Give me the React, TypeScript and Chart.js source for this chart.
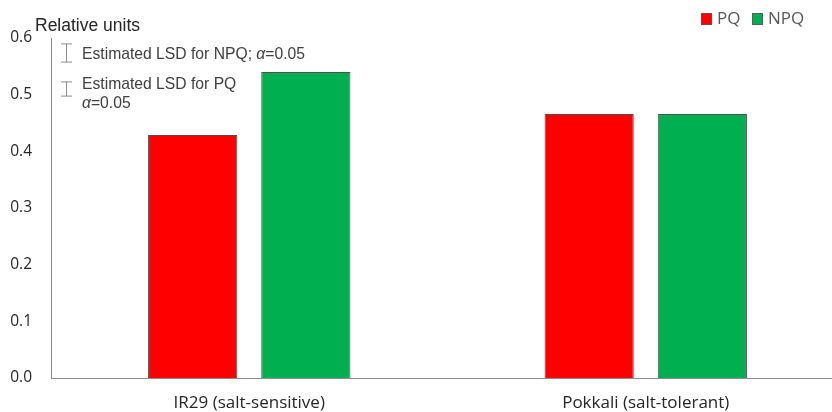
import React, { useEffect, useRef } from "react";
import { Chart, registerables } from "chart.js";

Chart.register(...registerables);

const categories = ["IR29 (salt-sensitive)", "Pokkali (salt-tolerant)"];
const pqValues = [0.429, 0.466];
const npqValues = [0.54, 0.466];
const seriesNames = ["PQ", "NPQ"];
const seriesColors = ["#FF0000", "#00B050"];
const yTicks = [0, 0.1, 0.2, 0.3, 0.4, 0.5, 0.6];
const lsdNpq = 0.032;
const lsdPq = 0.025;
const yTitle = "Relative units";

const overlayPlugin = {
  id: "overlay",
  afterDraw(chart: any) {
    const ctx = chart.ctx;
    const y = chart.scales.y;
    const ppu = Math.abs(y.getPixelForValue(0) - y.getPixelForValue(0.1)) / 0.1;
    ctx.save();
    // y title
    ctx.fillStyle = "#262626";
    ctx.font = '17.5px "Liberation Sans", Arial, sans-serif';
    ctx.textBaseline = "alphabetic";
    ctx.textAlign = "left";
    ctx.fillText(yTitle, 35, 31);

    // LSD glyphs
    const drawI = (cx: number, cy: number, h: number) => {
      ctx.strokeStyle = "#8c8c8c";
      ctx.lineWidth = 1;
      ctx.beginPath();
      ctx.moveTo(cx, cy - h / 2);
      ctx.lineTo(cx, cy + h / 2);
      ctx.moveTo(cx - 5.5, cy - h / 2);
      ctx.lineTo(cx + 5.5, cy - h / 2);
      ctx.moveTo(cx - 5.5, cy + h / 2);
      ctx.lineTo(cx + 5.5, cy + h / 2);
      ctx.stroke();
    };
    drawI(66.5, 53, lsdNpq * ppu);
    drawI(66.5, 89, lsdPq * ppu);

    const reg = '15.7px "Liberation Sans", Arial, sans-serif';
    const ital = 'italic 15.7px "Liberation Sans", Arial, sans-serif';
    ctx.fillStyle = "#404040";
    ctx.font = reg;
    const t1 = "Estimated LSD for NPQ; ";
    ctx.fillText(t1, 82, 59);
    const w = ctx.measureText(t1).width;
    ctx.font = ital;
    ctx.fillText("α", 82 + w, 59);
    let wa = ctx.measureText("α").width;
    ctx.font = reg;
    ctx.fillText("=0.05", 82 + w + wa, 59);

    ctx.fillText("Estimated LSD for PQ", 82, 89);
    ctx.font = ital;
    ctx.fillText("α", 82, 107.5);
    wa = ctx.measureText("α").width;
    ctx.font = reg;
    ctx.fillText("=0.05", 82 + wa, 107.5);

    // legend
    const items = [
      { x: 701, label: seriesNames[0], color: seriesColors[0] },
      { x: 752, label: seriesNames[1], color: seriesColors[1] },
    ];
    ctx.font = '17px "Open Sans", sans-serif';
    ctx.textBaseline = "middle";
    for (const it of items) {
      ctx.fillStyle = it.color;
      ctx.fillRect(it.x, 13, 11, 12);
      ctx.strokeStyle = "#595959";
      ctx.lineWidth = 0.8;
      ctx.strokeRect(it.x + 0.5, 13.5, 10, 11);
      ctx.fillStyle = "#595959";
      ctx.fillText(it.label, it.x + 16, 19);
    }
    ctx.restore();
  },
};

export default function App() {
  const ref = useRef<HTMLCanvasElement>(null);
  useEffect(() => {
    if (!ref.current) return;
    const chart = new Chart(ref.current, {
      type: "bar",
      data: {
        labels: categories,
        datasets: [
          {
            label: seriesNames[0],
            data: pqValues,
            backgroundColor: seriesColors[0],
            borderColor: "#505050",
            borderWidth: 1,
          },
          {
            label: seriesNames[1],
            data: npqValues,
            backgroundColor: seriesColors[1],
            borderColor: "#505050",
            borderWidth: 1,
          },
        ],
      },
      options: {
        animation: false,
        responsive: false,
        devicePixelRatio: 1,
        layout: { padding: { top: 38, right: 0, bottom: 0, left: 0 } },
        datasets: { bar: { categoryPercentage: 0.571, barPercentage: 0.788 } },
        plugins: { legend: { display: false }, tooltip: { enabled: false } },
        scales: {
          x: {
            grid: { display: false, drawTicks: false },
            border: { display: true, color: "#8c8c8c", width: 1 },
            ticks: {
              padding: 15,
              color: "#262626",
              font: { family: '"Open Sans", sans-serif', size: 17 },
              maxRotation: 0,
            },
            afterFit(scale: any) {
              scale.height = 34;
            },
          },
          y: {
            min: 0,
            max: 0.6,
            grid: { display: false, drawTicks: false },
            border: { display: true, color: "#8c8c8c", width: 1 },
            afterBuildTicks(scale: any) {
              scale.ticks = yTicks.map((v) => ({ value: v }));
            },
            ticks: {
              padding: 19,
              color: "#262626",
              font: { family: '"Open Sans", sans-serif', size: 15.5 },
              callback: (v: any) => Number(v).toFixed(1),
            },
            afterFit(scale: any) {
              scale.width = 51;
            },
          },
        },
      },
      plugins: [overlayPlugin],
    });
    return () => chart.destroy();
  }, []);
  return (
    <div style={{ position: "fixed", left: 0, top: 0, width: 832, height: 412, overflow: "hidden", background: "#fff" }}>
      <canvas ref={ref} width={844} height={412} style={{ display: "block", width: 844, height: 412 }} />
    </div>
  );
}
